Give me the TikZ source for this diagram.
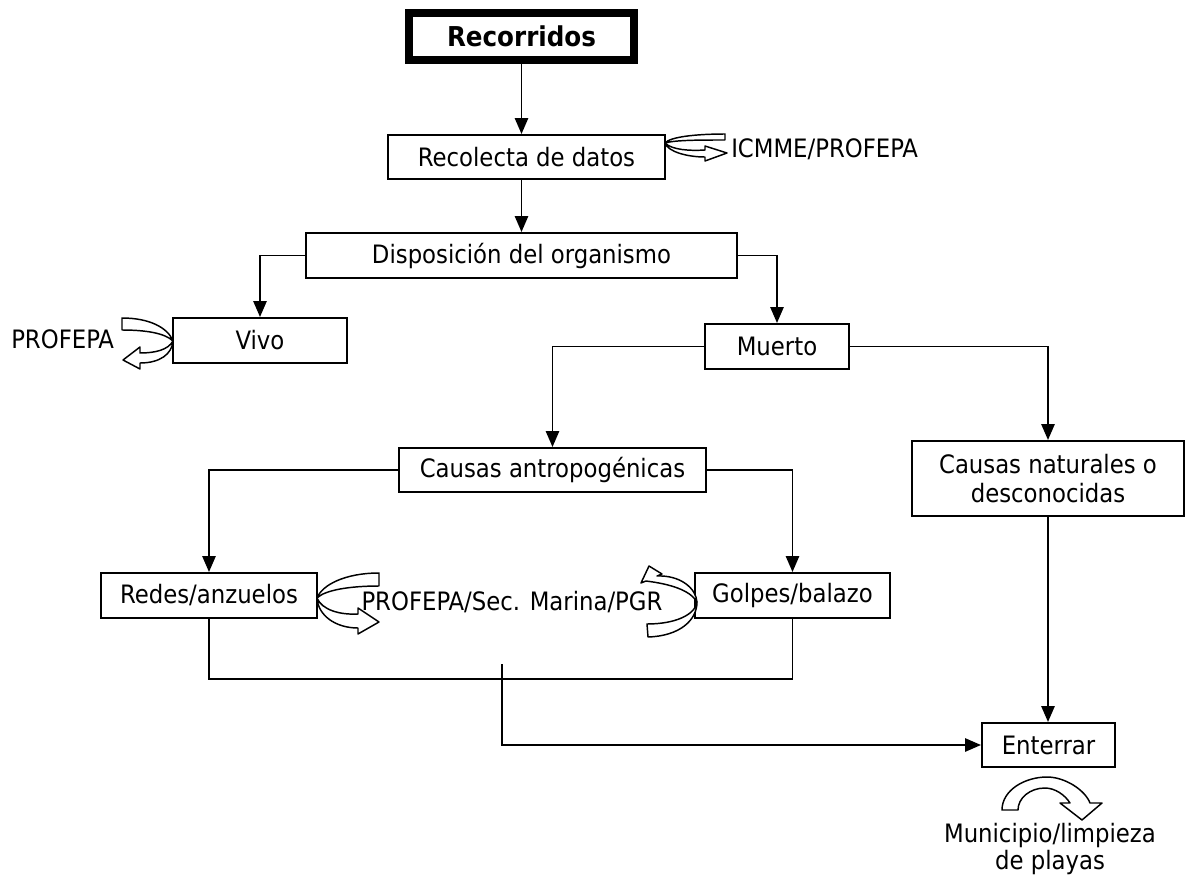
\documentclass[tikz,border=0pt]{standalone}
\usepackage{fontspec}
\setmainfont{DejaVu Sans Condensed}
\usetikzlibrary{arrows.meta}
\tikzset{
  box/.style={draw, line width=1.5pt, inner sep=0pt, align=center, font=\fontsize{19}{21.5}\selectfont},
  lbl/.style={inner sep=0pt, align=center, font=\fontsize{19}{20.5}\selectfont},
  conn/.style={line width=1.4pt, -{Triangle[length=12pt,width=10pt]}},
  plain/.style={line width=1.4pt},
  carrow/.style={draw, fill=white, line width=1.1pt, line join=round}
}
\begin{document}
\begin{tikzpicture}[x=0.75pt, y=-0.75pt]
\useasboundingbox (0,0) rectangle (1186,882);
% boxes
\node[box, line width=5.5pt, minimum width=225*0.75pt, minimum height=47*0.75pt, font=\fontsize{20.5}{22}\selectfont\bfseries] (rec) at (521.5,36.5) {Recorridos};
\node[box, minimum width=277*0.75pt, minimum height=44*0.75pt] (dat) at (526.5,157) {Recolecta de datos};
\node[box, minimum width=431*0.75pt, minimum height=45*0.75pt] (dis) at (521.5,255.5) {Disposición del organismo};
\node[box, minimum width=174*0.75pt, minimum height=45*0.75pt] (viv) at (260,340.5) {Vivo};
\node[box, minimum width=144*0.75pt, minimum height=45*0.75pt] (mue) at (777,346.5) {Muerto};
\node[box, minimum width=307*0.75pt, minimum height=44*0.75pt] (ant) at (552.5,470) {Causas antropogénicas};
\node[box, minimum width=272*0.75pt, minimum height=75*0.75pt] (nat) at (1048,478.5) {Causas naturales o\\desconocidas};
\node[box, minimum width=216*0.75pt, minimum height=45*0.75pt] (red) at (209,595.5) {Redes/anzuelos};
\node[box, minimum width=195*0.75pt, minimum height=45*0.75pt] (gol) at (792.5,595.5) {Golpes/balazo};
\node[box, minimum width=133*0.75pt, minimum height=44*0.75pt] (ent) at (1048.5,745) {Enterrar};
% labels
\node[lbl, anchor=west] (icm) at (731,149) {ICMME/PROFEPA};
\node[lbl, anchor=west] (pv) at (11,339) {PROFEPA};
\node[lbl] (psm) at (512,602) {PROFEPA/Sec. Marina/PGR};
\node[lbl] (mun) at (1050,849) {Municipio/limpieza\\de playas};
% connectors
\draw[conn] (rec.south) -- (rec.south |- dat.north);
\draw[conn] (dat.south -| dis.north) -- (dis.north);
\draw[conn] (dis.west) -| (viv.north);
\draw[conn] (dis.east) -| (mue.north);
\draw[conn] (mue.west) -| (ant.north);
\draw[conn] (mue.east) -| (nat.north);
\draw[conn] (ant.west) -| (red.north);
\draw[conn] (ant.east) -| (gol.north);
\draw[conn] (nat.south) -- (nat.south |- ent.north);
\coordinate (bot) at (500,679);
\draw[plain] (red.south) |- (bot) -| (gol.south);
\coordinate (mid) at (502,664);
\draw[conn] (mid) |- (ent.west);
% curved arrows
% ICMME
\path[carrow] (725,134) .. controls (695,134) and (670,137) .. (665,143) .. controls (675,140) and (700,140) .. (725,140) -- cycle;
\path[carrow] (665,143) .. controls (672,150) and (690,151) .. (705,150) -- (705,146) -- (727,153) -- (705,161) -- (705,157) .. controls (688,157) and (668,152) .. (665,143) -- cycle;
% Vivo
\path[carrow] (122,318) .. controls (150,318) and (168,328) .. (173,341) .. controls (165,333) and (145,330) .. (122,330) -- cycle;
\path[carrow] (173,341) .. controls (168,350) and (155,353) .. (140,353) -- (140,347) -- (123,360) -- (140,369) -- (140,363) .. controls (160,363) and (172,354) .. (173,341) -- cycle;
% Redes
\path[carrow] (379,573) .. controls (345,573) and (322,585) .. (317,598) .. controls (325,590) and (350,586) .. (379,586) -- cycle;
\path[carrow] (317,598) .. controls (322,610) and (340,615) .. (358,614) -- (358,608) -- (379,622) -- (358,634) -- (358,628) .. controls (335,628) and (318,615) .. (317,598) -- cycle;
% Golpes
\path[carrow] (697,602) .. controls (690,590) and (670,584) .. (646,581) -- (641,583) -- (649,566) -- (662,574) -- (657,576) .. controls (680,575) and (696,588) .. (697,602) -- cycle;
\path[carrow] (697,602) .. controls (695,615) and (675,624) .. (647,624) -- (648,637) .. controls (680,636) and (697,620) .. (697,602) -- cycle;
% Enterrar
\path[carrow] (1002,810) .. controls (1002,790) and (1025,777) .. (1047,777) .. controls (1065,777) and (1085,790) .. (1090,803) -- (1102,803) -- (1082,820) -- (1060,803) -- (1070,803) .. controls (1065,795) and (1055,788) .. (1045,788) .. controls (1030,788) and (1018,798) .. (1018,810) -- cycle;
\end{tikzpicture}
\end{document}
